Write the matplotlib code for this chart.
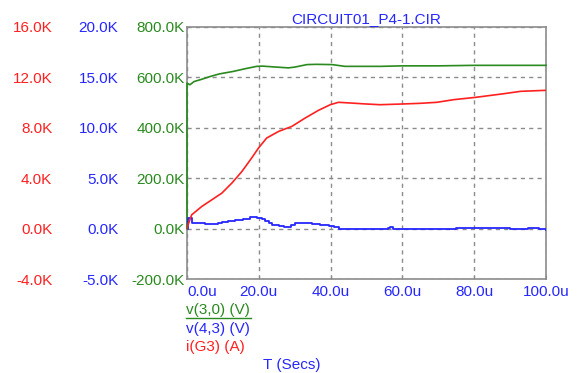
import matplotlib.pyplot as plt
from matplotlib.lines import Line2D
from matplotlib.ticker import FuncFormatter

plt.rcParams['font.family'] = ['Liberation Sans', 'DejaVu Sans']

title = "CIRCUIT01_P4-1.CIR"
trace_names = ["v(3,0) (V)", "v(4,3) (V)", "i(G3) (A)"]

# time in microseconds, values in kilo-units
t_green = [0, 0, 0.8, 2, 3.7, 6.5, 9, 12.9, 16, 19.4, 21, 24, 28.2, 30, 33.4, 36, 40.4, 44,
           50, 54, 60, 65, 70, 75, 80, 85, 90, 95, 100]
v_green = [0, 578, 571, 584, 591, 604, 614, 624, 634, 644, 645, 642, 638, 641, 651, 652, 651, 644,
           644, 644, 646, 646, 646, 647, 648, 648, 648, 648, 648]

t_blue = [0, 0.2, 1.4, 3, 5, 6.9, 8.5, 9.7, 11.5, 13.4, 15.5, 17.6, 19.5, 20.8, 21.8, 22.8, 23.7,
          25.5, 27, 29, 30.2, 33, 34.9, 37, 39.5, 41, 42.3, 50, 54, 56, 56.5, 57.5, 60, 65, 70,
          75, 80, 85, 90, 95, 98, 100]
v_blue = [0, 1.06, 0.57, 0.57, 0.5, 0.47, 0.55, 0.63, 0.75, 0.89, 1.0, 1.22, 1.12, 0.95, 0.79,
          0.6, 0.4, 0.3, 0.23, 0.35, 0.57, 0.55, 0.5, 0.42, 0.3, 0.15, -0.03, -0.05, -0.05, 0.1,
          0.15, 0.0, -0.05, 0.0, 0.0, 0.05, 0.05, 0.05, 0.0, 0.05, 0.0, -0.15]

t_red = [0, 0.3, 1.3, 4.1, 6.9, 9.7, 12.5, 15.3, 18.0, 19.9, 22.2, 25.5, 29.2, 32.9, 36.6, 39.9,
         42.2, 45.9, 49.7, 53.8, 60.3, 65, 69.6, 74.3, 80.3, 88.2, 92.9, 100]
v_red = [0, 0.32, 1.11, 1.77, 2.3, 2.83, 3.63, 4.55, 5.61, 6.4, 7.2, 7.72, 8.12, 8.78, 9.39, 9.84,
         10.03, 9.97, 9.9, 9.84, 9.9, 9.95, 10.03, 10.24, 10.42, 10.71, 10.9, 10.98]

x_ticks = [0, 20, 40, 60, 80, 100]
green_ticks = [-200, 0, 200, 400, 600, 800]
blue_ticks = [-5, 0, 5, 10, 15, 20]
red_ticks = [-4, 0, 4, 8, 12, 16]

GREEN = '#2a8a1f'
BLUE = '#2626ff'
RED = '#ff2020'
GRAY = '#8c8c8c'
FS = 11

fig = plt.figure(figsize=(5.77, 3.73), dpi=100)
W, H = 577, 373
L, R, T, B = 187, 546, 27, 279.3
ax = fig.add_axes([L / W, 1 - B / H, (R - L) / W, (B - T) / H])

ax.plot(t_green, v_green, color=GREEN, lw=1.2, zorder=3, clip_on=False)
ax.set_xlim(0, 100)
ax.set_ylim(-200, 800)
ax.set_xticks(x_ticks)
ax.set_yticks(green_ticks)
ax.xaxis.set_major_formatter(FuncFormatter(lambda v, p: f"{v:.1f}u"))
ax.yaxis.set_major_formatter(FuncFormatter(lambda v, p: f"{v:.1f}K"))
ax.tick_params(axis='y', length=0, pad=1.5, labelsize=FS, labelcolor=GREEN)
ax.tick_params(axis='x', direction='in', length=3, color=GRAY, pad=4, labelsize=FS, labelcolor=BLUE)
ax.xaxis.get_major_ticks()[0].label1.set_horizontalalignment('left')
ax.grid(True, color=GRAY, linestyle=(0, (3, 3)), lw=1)
for s in ax.spines.values():
    s.set_color(GRAY)
    s.set_linewidth(1.2)

axb = ax.twinx()
axb.plot(t_blue, v_blue, color=BLUE, lw=1.3, drawstyle='steps-post')
axb.set_ylim(-5, 20)
axb.set_yticks(blue_ticks)
axr = ax.twinx()
axr.plot(t_red, v_red, color=RED, lw=1.2)
axr.set_ylim(-4, 16)
axr.set_yticks(red_ticks)

for a, off, col in [(axb, -66 / (R - L), BLUE), (axr, -132 / (R - L), RED)]:
    a.yaxis.tick_left()
    a.spines['left'].set_position(('axes', off))
    for s in a.spines.values():
        s.set_visible(False)
    a.yaxis.set_major_formatter(FuncFormatter(lambda v, p: f"{v:.1f}K"))
    a.tick_params(axis='y', length=0, pad=2, labelsize=FS, labelcolor=col)

ax.set_title(title, color=BLUE, fontsize=FS, pad=3)

colors = [GREEN, BLUE, RED]
ys = [310, 328.5, 346.7]
for name, col, y in zip(trace_names, colors, ys):
    fig.text(186 / W, 1 - y / H, name, color=col, fontsize=FS, ha='left', va='center')
fig.add_artist(Line2D([186 / W, 251 / W], [1 - 317.5 / H] * 2, color=GREEN, lw=1))
fig.text(263 / W, 1 - 365 / H, "T (Secs)", color=BLUE, fontsize=FS, ha='left', va='center')

fig.savefig("out.png", dpi=100)
